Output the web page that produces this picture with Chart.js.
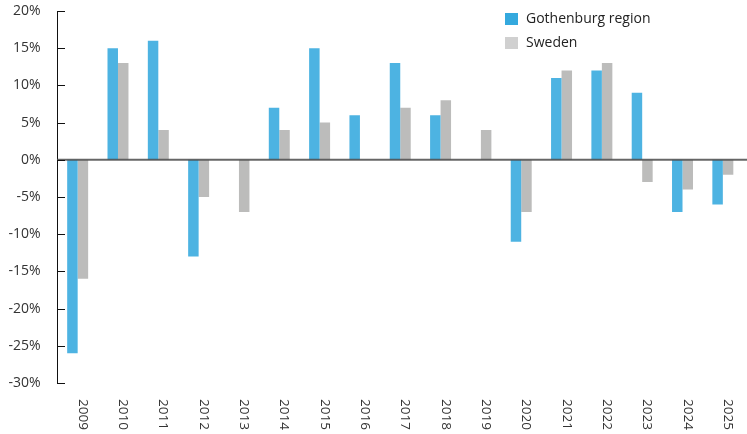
<!DOCTYPE html>
<html>
<head>
<meta charset="utf-8">
<script src="https://cdn.jsdelivr.net/npm/chart.js@4"></script>
<style>
  html, body { margin: 0; padding: 0; background: #fff; }
  #wrap { width: 747px; height: 434px; }
</style>
</head>
<body>
<div id="wrap"><canvas id="growth" width="747" height="434"></canvas></div>
<script>
const years = ['2009', '2010', '2011', '2012', '2013', '2014', '2015', '2016', '2017',
               '2018', '2019', '2020', '2021', '2022', '2023', '2024', '2025'];
const gothenburg = [-26, 15, 16, -13, 0, 7, 15, 6, 13, 6, 0, -11, 11, 12, 9, -7, -6];
const sweden = [-16, 13, 4, -5, -7, 4, 5, 0, 7, 8, 4, -7, 12, 13, -3, -4, -2];
const yTicks = [-30, -25, -20, -15, -10, -5, 0, 5, 10, 15, 20];

const font = '"Open Sans", Roboto, sans-serif';

// legend, tick marks, zero line and rotated year labels
const extras = {
    id: 'extras',
    afterDatasetsDraw(chart) {
        const c = chart.ctx;
        const y = chart.scales.y;
        const y0 = y.getPixelForValue(0);
        c.save();
        c.strokeStyle = 'rgba(75,75,75,0.85)';
        c.lineWidth = 2;
        c.beginPath();
        c.moveTo(57, y0);
        c.lineTo(747, y0);
        c.stroke();
        c.restore();
    },
    afterDraw(chart) {
        const c = chart.ctx;
        const x = chart.scales.x;
        const y = chart.scales.y;
        c.save();
        // tick marks inside the plot
        c.strokeStyle = '#111';
        c.lineWidth = 1;
        yTicks.forEach(v => {
            const py = Math.round(y.getPixelForValue(v)) + 0.5;
            c.beginPath();
            c.moveTo(57, py);
            c.lineTo(65, py);
            c.stroke();
        });
        // year labels, reading downwards
        c.fillStyle = '#333';
        c.font = '13.5px ' + font;
        c.textAlign = 'left';
        c.textBaseline = 'middle';
        years.forEach((lab, i) => {
            c.save();
            c.translate(x.getPixelForValue(i) + 5, 399);
            c.rotate(Math.PI / 2);
            c.fillText(lab, 0, 0);
            c.restore();
        });
        // legend
        const legendCols = ['#34a9de', '#d0d0d0'];
        chart.data.datasets.forEach((ds, i) => {
            const ly = 13 + i * 24;
            c.fillStyle = legendCols[i];
            c.fillRect(505, ly, 13, 12);
            c.fillStyle = '#222';
            c.font = '14px ' + font;
            c.textBaseline = 'middle';
            c.fillText(ds.label, 526, ly + 6);
        });
        c.restore();
    }
};

new Chart(document.getElementById('growth'), {
    type: 'bar',
    data: {
        labels: years,
        datasets: [{
            label: 'Gothenburg region',
            data: gothenburg,
            backgroundColor: '#4db3e2',
            borderWidth: 0
        }, {
            label: 'Sweden',
            data: sweden,
            backgroundColor: '#bcbcbb',
            borderWidth: 0
        }]
    },
    options: {
        responsive: false,
        animation: false,
        maintainAspectRatio: false,
        layout: {
            padding: { top: 11, right: 4, left: 0, bottom: 0 }
        },
        datasets: {
            bar: { categoryPercentage: 0.52, barPercentage: 1 }
        },
        plugins: {
            legend: { display: false },
            tooltip: { enabled: false }
        },
        scales: {
            x: {
                grid: { display: false, drawTicks: false },
                border: { display: false },
                ticks: { display: false },
                afterFit(scale) {
                    scale.height = 51;
                    scale.paddingLeft = 0;
                    scale.paddingRight = 0;
                }
            },
            y: {
                min: -30,
                max: 20,
                grid: { display: false, drawTicks: false },
                border: { display: true, color: '#111', width: 1 },
                afterFit(scale) {
                    scale.width = 57.5;
                    scale.paddingTop = 0;
                    scale.paddingBottom = 0;
                },
                afterBuildTicks(scale) {
                    scale.ticks = yTicks.map(v => ({ value: v }));
                },
                ticks: {
                    padding: 17,
                    color: '#333',
                    font: { family: font, size: 14 },
                    callback: v => v + '%'
                }
            }
        }
    },
    plugins: [extras]
});
</script>
</body>
</html>
